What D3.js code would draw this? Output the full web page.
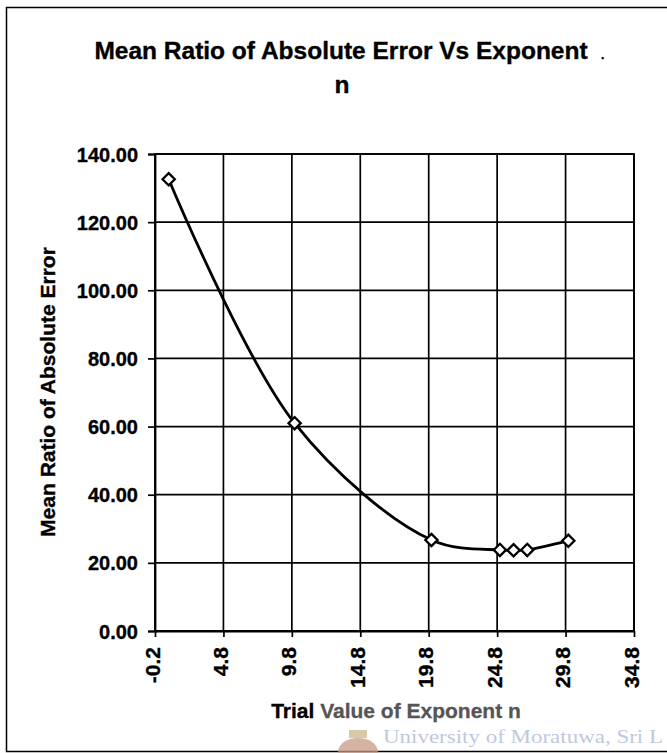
<!DOCTYPE html>
<html>
<head>
<meta charset="utf-8">
<script src="https://cdn.jsdelivr.net/npm/d3@7"></script>
<style>
  html, body { margin: 0; padding: 0; background: #fff; }
  svg { display: block; }
  text.lbl { font-family: "Liberation Sans", Arial, sans-serif; font-weight: bold; fill: #000; stroke: #000; stroke-width: 0.35px; }
</style>
</head>
<body>
<div id="chart"></div>
<script>
// ---- data ----
const trialN = [0.8, 10, 20, 25, 26, 27, 30];
const meanRatio = [132.6, 61.0, 26.7, 23.8, 23.7, 23.8, 26.5];
const xTickValues = [-0.2, 4.8, 9.8, 14.8, 19.8, 24.8, 29.8, 34.8];
const yTickValues = [0, 20, 40, 60, 80, 100, 120, 140];
const titleLines = ["Mean Ratio of Absolute Error Vs Exponent", "n"];
const xTitle = "Trial Value of Exponent n";
const yTitle = "Mean Ratio of Absolute Error";
const watermark = "University of Moratuwa, Sri L";

const W = 667, H = 753;
const svg = d3.select("#chart").append("svg").attr("width", W).attr("height", H);

// outer chart border (right edge runs off the page)
svg.append("path")
  .attr("d", `M${W + 5},7.5 H6.5 V751.5 H${W + 5}`)
  .attr("fill", "none").attr("stroke", "#000").attr("stroke-width", 1.5);

const plot = { left: 155, right: 634, top: 154, bottom: 631 };
const x = d3.scaleLinear().domain([-0.2, 34.8]).range([plot.left, plot.right]);
const y = d3.scaleLinear().domain([0, 140]).range([plot.bottom, plot.top]);

// title
svg.append("text").attr("class", "lbl").attr("x", 341).attr("y", 59).attr("text-anchor", "middle")
  .attr("font-size", 24.5).text(titleLines[0]);
svg.append("text").attr("class", "lbl").attr("x", 601).attr("y", 59).attr("font-size", 12).text(".");
svg.append("text").attr("class", "lbl").attr("x", 342).attr("y", 93).attr("text-anchor", "middle")
  .attr("font-size", 24.5).text(titleLines[1]);

// gridlines
const grid = svg.append("g").attr("stroke", "#000").attr("stroke-width", 1.7);
grid.selectAll("line.h").data(yTickValues).join("line")
  .attr("x1", plot.left).attr("x2", plot.right)
  .attr("y1", d => y(d)).attr("y2", d => y(d));
grid.selectAll("line.v").data(xTickValues).join("line")
  .attr("y1", plot.top).attr("y2", plot.bottom)
  .attr("x1", d => x(d)).attr("x2", d => x(d));

// axes
const yAxis = d3.axisLeft(y).tickValues(yTickValues).tickFormat(d => d.toFixed(2))
  .tickSize(7).tickPadding(10);
const gy = svg.append("g").attr("transform", `translate(${plot.left},0)`).call(yAxis);
gy.select(".domain").attr("stroke-width", 1.8);
gy.selectAll(".tick line").attr("stroke-width", 1.7);
gy.selectAll(".tick text").attr("class", "lbl").attr("font-size", 20).attr("dy", "0.35em");

const xAxis = d3.axisBottom(x).tickValues(xTickValues).tickFormat(d => d.toFixed(1))
  .tickSize(6).tickSizeOuter(0);
const gx = svg.append("g").attr("transform", `translate(0,${plot.bottom})`).call(xAxis);
gx.select(".domain").attr("stroke-width", 1.8);
gx.selectAll(".tick line").attr("stroke-width", 1.7);
gx.selectAll(".tick text").attr("class", "lbl")
  .attr("font-size", 21)
  .attr("transform", "rotate(-90)")
  .attr("text-anchor", "end")
  .attr("x", -16).attr("y", 0).attr("dy", 4);

// plot frame
svg.append("rect").attr("x", plot.left).attr("y", plot.top)
  .attr("width", plot.right - plot.left).attr("height", plot.bottom - plot.top)
  .attr("fill", "none").attr("stroke", "#000").attr("stroke-width", 1.8);

// axis titles
svg.append("text").attr("class", "lbl")
  .attr("transform", `translate(55,392) rotate(-90)`)
  .attr("text-anchor", "middle").attr("font-size", 21).text(yTitle);

const xt = svg.append("text").attr("x", 396).attr("y", 718).attr("text-anchor", "middle")
  .attr("font-size", 21)
  .style("font-family", '"Liberation Sans", Arial, sans-serif').style("font-weight", "bold");
const xWords = xTitle.split(" ");
xt.append("tspan").style("fill", "#000").style("stroke", "#000").style("stroke-width", "0.35px")
  .text(xWords[0] + " ");
xt.append("tspan").style("fill", "#555").style("stroke", "#555").style("stroke-width", "0.3px")
  .text(xWords.slice(1).join(" "));

// series
const pts = trialN.map((v, i) => [v, meanRatio[i]]);
const line = d3.line().x(d => x(d[0])).y(d => y(d[1])).curve(d3.curveCatmullRom.alpha(0.5));
svg.append("path").datum(pts).attr("d", line)
  .attr("fill", "none").attr("stroke", "#000").attr("stroke-width", 2.8);

const diamond = d3.symbol().type(d3.symbolDiamond2).size(95);
svg.selectAll("path.pt").data(pts).join("path")
  .attr("transform", d => `translate(${x(d[0])},${y(d[1])})`)
  .attr("d", diamond)
  .attr("fill", "#fff").attr("stroke", "#000").attr("stroke-width", 2.3);

// watermark
const wm = svg.append("g").attr("opacity", 0.75);
wm.append("rect").attr("x", 349).attr("y", 730).attr("width", 18).attr("height", 8)
  .attr("fill", "#cdb88a");
wm.append("ellipse").attr("cx", 358).attr("cy", 752).attr("rx", 20).attr("ry", 14)
  .attr("fill", "#c79a86");
wm.append("text").attr("x", 383).attr("y", 743)
  .attr("textLength", 280).attr("lengthAdjust", "spacingAndGlyphs")
  .style("font-family", '"Liberation Serif", "Times New Roman", serif')
  .style("font-weight", "normal").style("font-size", "19px")
  .style("fill", "#aab6d2").text(watermark);
</script>
</body>
</html>
